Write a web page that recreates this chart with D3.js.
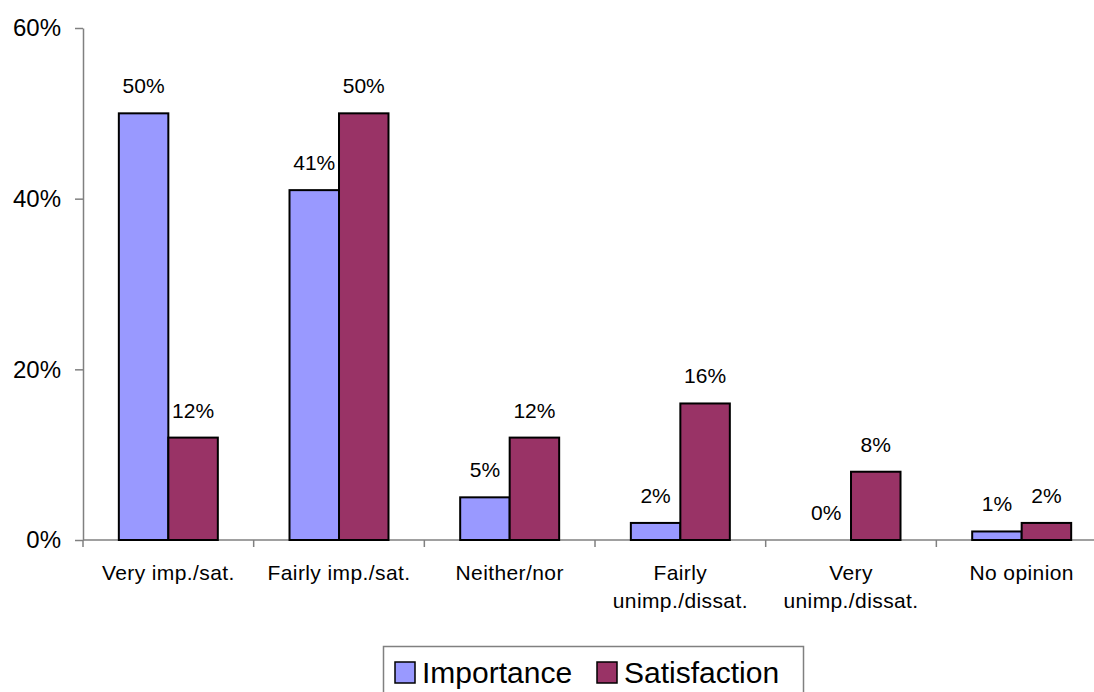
<!DOCTYPE html>
<html>
<head>
<meta charset="utf-8">
<script src="https://cdn.jsdelivr.net/npm/d3@7"></script>
<style>
  html, body { margin: 0; padding: 0; background: #fff; }
  svg { display: block; font-family: "Liberation Sans", Arial, sans-serif; }
</style>
</head>
<body>
<svg id="chart" width="1094" height="692"></svg>
<script>
// Survey responses: share of respondents per answer category
const categories = [
  ["Very imp./sat."],
  ["Fairly imp./sat."],
  ["Neither/nor"],
  ["Fairly", "unimp./dissat."],
  ["Very", "unimp./dissat."],
  ["No opinion"]
];
const seriesNames = ["Importance", "Satisfaction"];
const importance   = [0.50, 0.41, 0.05, 0.02, 0.00, 0.01];
const satisfaction = [0.12, 0.50, 0.12, 0.16, 0.08, 0.02];
const yTicks = [0, 0.2, 0.4, 0.6];
const colors = ["#9999FF", "#993366"];

const svg = d3.select("#chart");
const plotLeft = 83, plotTop = 28, plotBottom = 540;
const step = 170.67;
const keys = categories.map((c, i) => i);

const x0 = d3.scaleBand()
  .domain(keys)
  .range([plotLeft, plotLeft + step * categories.length])
  .paddingInner(0.42)
  .paddingOuter(0.21);

const x1 = d3.scaleBand()
  .domain(seriesNames)
  .range([0, x0.bandwidth()]);

const y = d3.scaleLinear().domain([0, 0.6]).range([plotBottom, plotTop]);
const pct = d3.format(".0%");
const series = [importance, satisfaction];

// Value axis
const yAxis = svg.append("g")
  .attr("transform", `translate(${plotLeft},0)`)
  .call(d3.axisLeft(y).tickValues(yTicks).tickFormat(pct).tickSize(8).tickSizeOuter(0).tickPadding(14));
yAxis.select(".domain").attr("stroke", "#808080").attr("stroke-width", 1.5);
yAxis.selectAll(".tick line").attr("stroke", "#808080").attr("stroke-width", 1.5);
yAxis.selectAll(".tick text")
  .attr("font-size", 24).attr("fill", "#000")
  .attr("font-family", "Liberation Sans, Arial, sans-serif");

// Category axis line with ticks between groups
const xEnd = plotLeft + step * categories.length;
svg.append("line")
  .attr("x1", plotLeft).attr("x2", xEnd)
  .attr("y1", plotBottom).attr("y2", plotBottom)
  .attr("stroke", "#808080").attr("stroke-width", 1.5);
svg.append("g").selectAll("line")
  .data(d3.range(categories.length + 1))
  .join("line")
  .attr("x1", i => plotLeft + i * x0.step())
  .attr("x2", i => plotLeft + i * x0.step())
  .attr("y1", plotBottom).attr("y2", plotBottom + 7)
  .attr("stroke", "#808080").attr("stroke-width", 1.5);

// Bars
const groups = svg.append("g").selectAll("g")
  .data(keys)
  .join("g")
  .attr("transform", i => `translate(${x0(i)},0)`);

groups.selectAll("rect")
  .data(i => seriesNames.map((s, k) => ({ s, k, v: series[k][i] })))
  .join("rect")
  .attr("x", d => x1(d.s))
  .attr("y", d => y(d.v))
  .attr("width", x1.bandwidth())
  .attr("height", d => plotBottom - y(d.v))
  .attr("fill", d => colors[d.k])
  .attr("stroke", "#000")
  .attr("stroke-width", d => d.v > 0 ? 2 : 0);

// Value labels
groups.selectAll("text")
  .data(i => seriesNames.map((s, k) => ({ s, k, v: series[k][i] })))
  .join("text")
  .attr("x", d => x1(d.s) + x1.bandwidth() / 2)
  .attr("y", d => y(d.v) - 20)
  .attr("text-anchor", "middle")
  .attr("font-size", 21)
  .text(d => pct(d.v));

// Category labels
const catLabels = svg.append("g").selectAll("text")
  .data(keys)
  .join("text")
  .attr("x", i => x0(i) + x0.bandwidth() / 2)
  .attr("y", 580)
  .attr("text-anchor", "middle")
  .attr("font-size", 21)
  .attr("letter-spacing", 0.4);
catLabels.selectAll("tspan")
  .data(i => categories[i].map((line, j) => ({ line, j, cx: x0(i) + x0.bandwidth() / 2 })))
  .join("tspan")
  .attr("x", d => d.cx)
  .attr("dy", d => d.j === 0 ? 0 : 28)
  .text(d => d.line);

// Legend
const legend = svg.append("g");
legend.append("rect")
  .attr("x", 383.5).attr("y", 646.5)
  .attr("width", 420).attr("height", 60)
  .attr("fill", "#fff").attr("stroke", "#808080").attr("stroke-width", 1.5);
const legendX = [395, 597];
seriesNames.forEach((name, k) => {
  legend.append("rect")
    .attr("x", legendX[k]).attr("y", 662)
    .attr("width", 20).attr("height", 21)
    .attr("fill", colors[k]).attr("stroke", "#000").attr("stroke-width", 1.5);
  legend.append("text")
    .attr("x", legendX[k] + 27).attr("y", 683)
    .attr("font-size", 30)
    .text(name);
});
</script>
</body>
</html>
